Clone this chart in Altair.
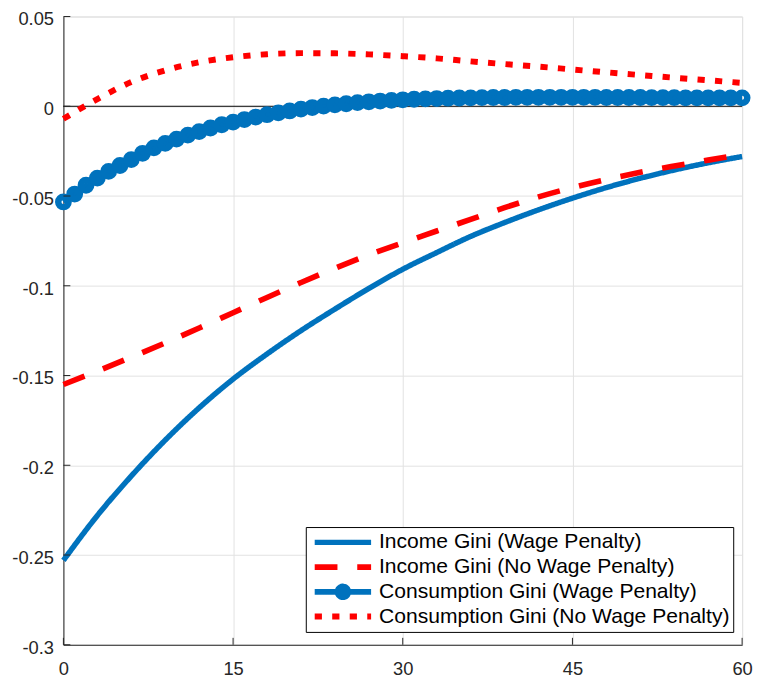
import altair as alt
import pandas as pd

# horizon grid for the three smooth curves
x_coarse = [0, 3, 6, 9, 12, 15, 18, 21, 24, 27, 30,
            33, 36, 39, 42, 45, 48, 51, 54, 57, 60]
income_wp = [-0.253, -0.228, -0.206, -0.186, -0.168, -0.152, -0.138, -0.125, -0.113, -0.1015, -0.0908,
             -0.0815, -0.0725, -0.0648, -0.0577, -0.0512, -0.0453, -0.0401, -0.0355, -0.0315, -0.028]
income_nwp = [-0.155, -0.1475, -0.1398, -0.1318, -0.1235, -0.115, -0.1065, -0.0982, -0.0902, -0.0828, -0.076,
              -0.0695, -0.063, -0.0565, -0.0505, -0.0453, -0.0408, -0.0368, -0.0333, -0.030, -0.0268]
cons_nwp = [-0.007, 0.004, 0.0135, 0.020, 0.0245, 0.0273, 0.029, 0.0296, 0.0295, 0.0289, 0.0279,
            0.0267, 0.025, 0.0235, 0.0221, 0.0205, 0.0189, 0.0174, 0.0159, 0.0145, 0.013]

# consumption gini with wage penalty, one marker per period
x_fine = list(range(61))
cons_wp = [-0.0533, -0.0489, -0.0440, -0.0400, -0.0363, -0.0330, -0.0297, -0.0262, -0.0232, -0.0207,
           -0.0183, -0.0161, -0.0141, -0.0121, -0.0103, -0.0088, -0.0074, -0.0060, -0.0047, -0.0037,
           -0.0026, -0.0016, -0.0007, 0.0001, 0.0008, 0.0014, 0.0020, 0.0025, 0.0029, 0.0033,
           0.0036, 0.0039, 0.0041, 0.0043, 0.0045, 0.0046, 0.0047, 0.0048, 0.0049, 0.0049,
           0.0050, 0.0050, 0.0050, 0.0050, 0.0050, 0.0050, 0.0050, 0.0050, 0.0049, 0.0049,
           0.0049, 0.0049, 0.0048, 0.0048, 0.0048, 0.0047, 0.0047, 0.0047, 0.0047, 0.0047,
           0.0047]

series_names = ["Income Gini (Wage Penalty)", "Income Gini (No Wage Penalty)",
                "Consumption Gini (Wage Penalty)", "Consumption Gini (No Wage Penalty)"]
series_colors = ["#0072BD", "#FF0000", "#0072BD", "#FF0000"]
series_dash = [[1, 0], [23, 20], [1, 0], [7.3, 10.4]]
series_width = [5.5, 6, 4.5, 7.3]
legend_shapes = ["M-1,0H1", "M-1,0H1",
                 "M-1,0H1M0.19,0A0.19,0.19,0,1,1,-0.19,0A0.19,0.19,0,1,1,0.19,0Z",
                 "M-1,0H1"]

x_ticks = [0, 15, 30, 45, 60]
y_ticks = [-0.3, -0.25, -0.2, -0.15, -0.1, -0.05, 0, 0.05]

W, H = 686, 635
FONT = "Liberation Sans"
AXIS_COL = "#262626"

frames = []
for name, ys in [(series_names[0], income_wp), (series_names[1], income_nwp)]:
    frames.append(pd.DataFrame({"t": x_coarse, "v": ys, "series": name}))
frames.append(pd.DataFrame({"t": x_fine, "v": cons_wp, "series": series_names[2]}))
frames.append(pd.DataFrame({"t": x_coarse, "v": cons_nwp, "series": series_names[3]}))
df = pd.concat(frames, ignore_index=True)

xs = alt.Scale(domain=[0, 60], nice=False, zero=False)
ys_ = alt.Scale(domain=[-0.3, 0.05], nice=False, zero=False)

x_enc = alt.X("t:Q", scale=xs, title=None,
              axis=alt.Axis(values=x_ticks, format="d", grid=True, gridColor="#e2e2e2",
                            domainColor=AXIS_COL, ticks=False, tickSize=0, labelFlush=False,
                            labelFont=FONT, labelFontSize=18.5, labelColor=AXIS_COL,
                            labelPadding=15))
y_enc = alt.Y("v:Q", scale=ys_, title=None,
              axis=alt.Axis(values=y_ticks, grid=True, gridColor="#e2e2e2",
                            domainColor=AXIS_COL, ticks=False, tickSize=0, labelFlush=False,
                            labelFont=FONT, labelFontSize=18.5, labelColor=AXIS_COL,
                            labelPadding=10, labelOffset=2.5,
                            labelExpr="(datum.value < 0 ? '-' : '') + format(abs(datum.value), '.2~f')"))

legend_cfg = alt.Legend(orient="none", legendX=245, legendY=516, direction="vertical",
                        fillColor="white", strokeColor="black", padding=3,
                        labelFont=FONT, labelFontSize=21.3, labelColor="black", labelLimit=500,
                        labelOffset=5, symbolOffset=3, symbolSize=3249, symbolStrokeWidth=6.5,
                        symbolOpacity=1, clipHeight=25, rowPadding=0)

color_enc = alt.Color("series:N", title=None, legend=legend_cfg,
                      scale=alt.Scale(domain=series_names, range=series_colors))

zero_line = alt.Chart(pd.DataFrame({"zero": [0]})).mark_rule(
    color="black", strokeWidth=1
).encode(y=alt.Y("zero:Q", scale=ys_))

lines = alt.Chart(df).mark_line(interpolate="monotone").encode(
    x=x_enc,
    y=y_enc,
    color=color_enc,
    strokeDash=alt.StrokeDash("series:N", title=None, legend=legend_cfg,
                              scale=alt.Scale(domain=series_names, range=series_dash)),
    strokeWidth=alt.StrokeWidth("series:N", legend=None,
                                scale=alt.Scale(domain=series_names, range=series_width)),
    order="t:Q",
)

markers = alt.Chart(df).transform_filter(
    alt.datum.series == series_names[2]
).mark_point(shape="circle", filled=False, size=110, strokeWidth=6.5,
             color="#0072BD", opacity=1).encode(
    x=alt.X("t:Q", scale=xs),
    y=alt.Y("v:Q", scale=ys_),
)

# empty layer that only feeds the legend its symbol shapes
legend_helper = alt.Chart(df).transform_filter("false").mark_point(filled=True, opacity=1).encode(
    x=alt.X("t:Q", scale=xs),
    y=alt.Y("v:Q", scale=ys_),
    color=color_enc,
    shape=alt.Shape("series:N", title=None, legend=legend_cfg,
                    scale=alt.Scale(domain=series_names, range=legend_shapes)),
)

# MATLAB style inward ticks
ytick_marks = alt.Chart(pd.DataFrame({"v": y_ticks})).mark_rule(
    color=AXIS_COL, strokeWidth=1
).encode(y=alt.Y("v:Q", scale=ys_), x=alt.value(0), x2=alt.value(7))
xtick_marks = alt.Chart(pd.DataFrame({"t": x_ticks})).mark_rule(
    color=AXIS_COL, strokeWidth=1
).encode(x=alt.X("t:Q", scale=xs), y=alt.value(H), y2=alt.value(H - 7))

chart = alt.layer(
    zero_line, lines, markers, legend_helper, ytick_marks, xtick_marks
).properties(
    width=W,
    height=H,
    autosize=alt.AutoSizeParams(type="none"),
    padding={"left": 56, "top": 5, "right": 11, "bottom": 33},
).configure_view(stroke=None).configure(background="white")

chart.save("out.html", embed_options={"renderer": "svg", "actions": False})
